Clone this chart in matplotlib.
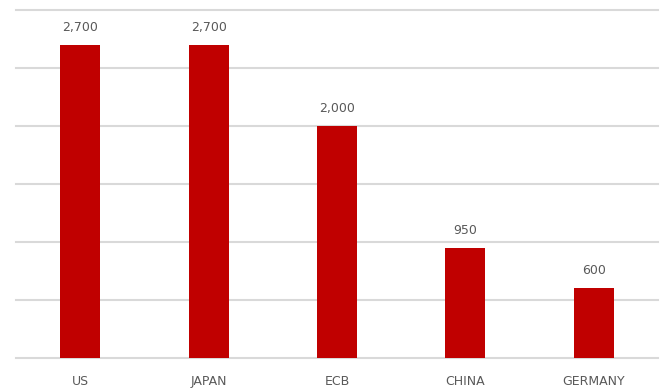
import matplotlib.pyplot as plt

# Data
categories = ["US", "JAPAN", "ECB", "CHINA", "GERMANY"]
values = [2700, 2700, 2000, 950, 600]

fig = plt.figure(figsize=(6.62, 3.9), dpi=100)
ax = fig.add_axes([16 / 662, 32 / 390, 642 / 662, 348 / 390])

x = range(len(categories))
bars = ax.bar(x, values, width=0.31, color="#c00000", zorder=3)

ax.set_xlim(-0.5, len(categories) - 0.5)
ax.set_ylim(0, 3000)
ax.set_yticks(range(0, 3001, 500))
ax.grid(axis="y", color="#d9d9d9", linewidth=1.5, zorder=0)
for gl in ax.get_ygridlines():
    gl.set_clip_on(False)
ax.tick_params(axis="y", left=False, labelleft=False)
ax.tick_params(axis="x", length=0, pad=12, labelsize=9, labelcolor="#595959")
ax.set_xticks(list(x))
ax.set_xticklabels(categories)
for s in ax.spines.values():
    s.set_visible(False)

for b, v in zip(bars, values):
    ax.annotate(f"{v:,}", (b.get_x() + b.get_width() / 2, v),
                xytext=(0, 8), textcoords="offset points",
                ha="center", va="bottom", fontsize=9, color="#595959")

fig.savefig("out.png", dpi=100)
